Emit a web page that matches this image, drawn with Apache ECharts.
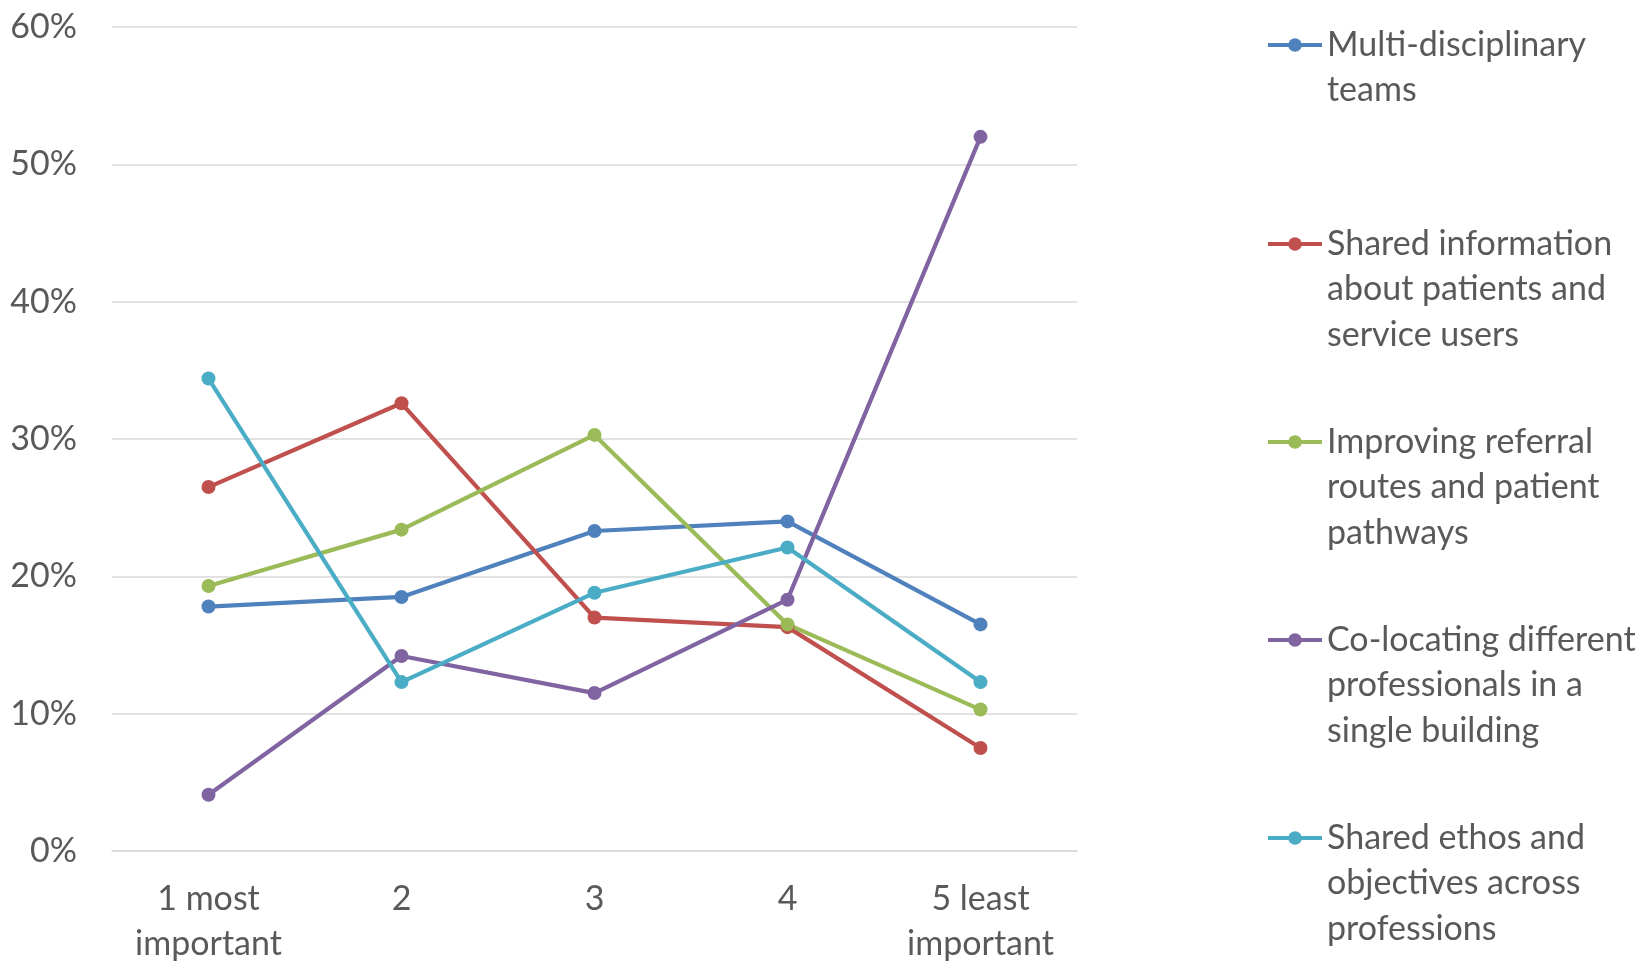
<!DOCTYPE html>
<html>
<head>
<meta charset="utf-8">
<script src="https://cdn.jsdelivr.net/npm/echarts@6/dist/echarts.min.js"></script>
<style>
  html, body { margin: 0; padding: 0; background: #ffffff; }
  #chart { width: 1643px; height: 962px; }
</style>
</head>
<body>
<div id="chart"></div>
<script>
// Ranking categories (1 = most important, 5 = least important)
const categories = ['1 most\nimportant', '2', '3', '4', '5 least\nimportant'];

// Share of respondents (%) giving each rank
const multiDisciplinary = [17.8, 18.5, 23.3, 24.0, 16.5];
const sharedInformation = [26.5, 32.6, 17.0, 16.3, 7.5];
const improvingReferral = [19.3, 23.4, 30.3, 16.5, 10.3];
const coLocating        = [4.1, 14.2, 11.5, 18.3, 52.0];
const sharedEthos       = [34.4, 12.3, 18.8, 22.1, 12.3];

const seriesNames = [
  'Multi-disciplinary\nteams',
  'Shared information\nabout patients and\nservice users',
  'Improving referral\nroutes and patient\npathways',
  'Co-locating different\nprofessionals in a\nsingle building',
  'Shared ethos and\nobjectives across\nprofessions'
];
const seriesValues = [multiDisciplinary, sharedInformation, improvingReferral, coLocating, sharedEthos];
const colors = ['#4F81BD', '#C0504D', '#9BBB59', '#8064A2', '#4BACC6'];

const FONT = 'Lato, "Noto Sans", sans-serif';
const TEXT = '#595959';
const FS = 34;
const LH = 45.5;

// One legend per series; blank lines above the label put its first line level with the marker
const legendIconY = [45, 244, 442, 640, 838];
const legends = seriesNames.map(function (name, i) {
  const lines = name.split('\n').length;
  const boxH = (2 * lines - 1) * LH;
  return {
    data: [name],
    orient: 'vertical',
    left: 1266,
    top: legendIconY[i] - boxH / 2,
    padding: 0,
    itemWidth: 54,
    itemHeight: 17,
    selectedMode: false,
    lineStyle: { width: 4 },
    formatter: function (n) { return '\n'.repeat(lines - 1) + n; },
    textStyle: {
      fontFamily: FONT,
      fontSize: FS,
      lineHeight: LH,
      color: TEXT
    }
  };
});

const chart = echarts.init(document.getElementById('chart'), null, { renderer: 'canvas' });
chart.setOption({
  animation: false,
  backgroundColor: '#ffffff',
  color: colors,
  grid: { left: 112, right: 566, top: 27, bottom: 111, containLabel: false, outerBoundsMode: 'none' },
  legend: legends,
  xAxis: {
    type: 'category',
    data: categories,
    boundaryGap: true,
    axisLine: { show: true, lineStyle: { color: '#D9D9D9', width: 1.5 } },
    axisTick: { show: false },
    axisLabel: {
      interval: 0,
      margin: 25,
      fontFamily: FONT,
      fontSize: FS,
      lineHeight: LH,
      color: TEXT
    }
  },
  yAxis: {
    type: 'value',
    min: 0,
    max: 60,
    interval: 10,
    axisLine: { show: false },
    axisTick: { show: false },
    splitLine: { lineStyle: { color: '#D9D9D9', width: 1.5 } },
    axisLabel: {
      formatter: '{value}%',
      margin: 35,
      fontFamily: FONT,
      fontSize: FS,
      color: TEXT
    }
  },
  series: seriesNames.map(function (name, i) {
    return {
      name: name,
      type: 'line',
      data: seriesValues[i],
      symbol: 'circle',
      symbolSize: 14,
      lineStyle: { width: 4.2, color: colors[i] },
      itemStyle: { color: colors[i] }
    };
  })
});
</script>
</body>
</html>
